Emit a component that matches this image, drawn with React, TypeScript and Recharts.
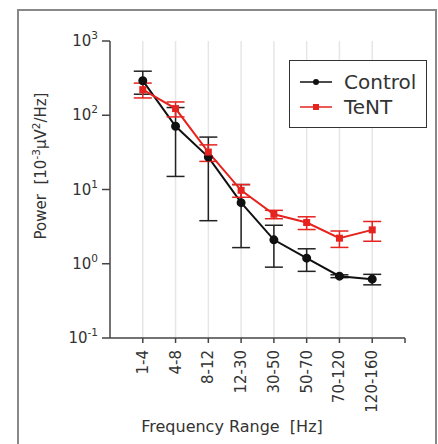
import React from "react";
import {
  LineChart,
  Line,
  XAxis,
  YAxis,
  ErrorBar,
  ReferenceLine,
} from "recharts";

const bands = ["1-4", "4-8", "8-12", "12-30", "30-50", "50-70", "70-120", "120-160"];
const controlMean = [292, 71, 27.3, 6.65, 2.1, 1.19, 0.68, 0.62];
const controlErr = [100, 56, 23.5, 5.0, 1.2, 0.4, 0.03, 0.1];
const tentMean = [221, 123, 31.9, 9.76, 4.64, 3.59, 2.21, 2.86];
const tentErr = [50, 28, 8, 1.9, 0.6, 0.7, 0.55, 0.85];
const yTicks = [0.1, 1, 10, 100, 1000];

const FONT = "DejaVu Sans, sans-serif";
const RED = "#e5231f";
const INK = "#333";

const data = bands.map((b, i) => ({
  x: i + 1,
  band: b,
  ctrl: controlMean[i],
  ctrlErr: controlErr[i],
  tent: tentMean[i],
  tentErr: tentErr[i],
}));

const PowTick = (props: any) => {
  const { x, y, payload } = props;
  const e = Math.round(Math.log10(payload.value));
  return (
    <text x={x - 2} y={y + 5} textAnchor="end" fontSize={15} fill={INK} fontFamily={FONT}>
      <tspan>10</tspan>
      <tspan dy={-7} fontSize={10.5}>{e}</tspan>
    </text>
  );
};

const BandTick = (props: any) => {
  const { x, y, payload } = props;
  const label = bands[payload.value - 1];
  if (!label) return null;
  return (
    <text
      transform={`translate(${x + 5}, ${y + 5}) rotate(-90)`}
      textAnchor="end"
      fontSize={15}
      fill={INK}
      fontFamily={FONT}
    >
      {label}
    </text>
  );
};

const SquareDot = (props: any) => {
  const { cx, cy } = props;
  if (cx == null || cy == null) return null;
  return <rect x={cx - 3.5} y={cy - 3.5} width={7} height={7} fill={RED} />;
};

const LegendBox = () => (
  <div
    style={{
      position: "absolute",
      left: 289,
      top: 60,
      border: "1.5px solid #333",
      background: "#fff",
      width: 138,
      height: 68,
      boxSizing: "border-box",
      fontFamily: FONT,
      fontSize: 20,
      color: INK,
      paddingTop: 8,
    }}
  >
    {[
      { name: "Control", color: "#111", square: false },
      { name: "TeNT", color: RED, square: true },
    ].map((it) => (
      <div key={it.name} style={{ display: "flex", alignItems: "center", height: 25 }}>
        <svg width={48} height={12} style={{ marginLeft: 8 }}>
          <line x1={2} y1={6} x2={34} y2={6} stroke={it.color} strokeWidth={1.5} />
          {it.square ? (
            <rect x={15} y={3} width={6} height={6} fill={it.color} />
          ) : (
            <circle cx={18} cy={6} r={3} fill={it.color} />
          )}
        </svg>
        <span style={{ marginLeft: -2 }}>{it.name}</span>
      </div>
    ))}
  </div>
);

export default function App() {
  return (
    <div
      style={{
        position: "absolute",
        left: 0,
        top: 0,
        width: 438,
        height: 444,
        background: "#fff",
        overflow: "hidden",
      }}
    >
      <div
        style={{
          position: "absolute",
          left: 17,
          top: 9,
          width: 416,
          height: 440,
          borderLeft: "2px solid #888",
          borderTop: "2px solid #888",
          borderRight: "2px solid #888",
        }}
      />
      <LineChart
        width={438}
        height={444}
        data={data}
        margin={{ top: 41, right: 33, bottom: 0, left: 0 }}
        style={{ position: "absolute", left: 0, top: 0 }}
      >
        {data.map((d) => (
          <ReferenceLine key={d.band} x={d.x} stroke="#e6e6e6" strokeWidth={1.5} />
        ))}
        <XAxis
          type="number"
          dataKey="x"
          domain={[0, 9]}
          ticks={[1, 2, 3, 4, 5, 6, 7, 8, 9]}
          height={106}
          stroke="#444"
          strokeWidth={1.5}
          tickSize={5}
          tick={<BandTick />}
          label={{
            content: () => (
              <text x={232} y={432} textAnchor="middle" fontSize={16} fill={INK} fontFamily={FONT}>
                Frequency Range{"\u00a0"} [Hz]
              </text>
            ),
          }}
        />
        <YAxis
          scale="log"
          domain={[0.1, 1000]}
          ticks={yTicks}
          allowDataOverflow
          width={110}
          stroke="#444"
          strokeWidth={1.5}
          tickSize={8}
          tick={<PowTick />}
          label={{
            content: () => (
              <text
                transform="translate(46, 166) rotate(-90)"
                textAnchor="middle"
                fontSize={15}
                fill={INK}
                fontFamily={FONT}
              >
                <tspan>Power{"\u00a0"} [10</tspan>
                <tspan dy={-6} fontSize={10.5}>-3</tspan>
                <tspan dy={6}>µV</tspan>
                <tspan dy={-6} fontSize={10.5}>2</tspan>
                <tspan dy={6}>/Hz]</tspan>
              </text>
            ),
          }}
        />
        <Line
          type="linear"
          dataKey="ctrl"
          name="Control"
          stroke="#111"
          strokeWidth={2}
          dot={{ r: 3.5, fill: "#111", stroke: "#111" }}
          isAnimationActive={false}
        >
          <ErrorBar dataKey="ctrlErr" direction="y" width={9} stroke="#222" strokeWidth={1.5} />
        </Line>
        <Line
          type="linear"
          dataKey="tent"
          name="TeNT"
          stroke={RED}
          strokeWidth={2}
          dot={<SquareDot />}
          isAnimationActive={false}
        >
          <ErrorBar dataKey="tentErr" direction="y" width={9} stroke={RED} strokeWidth={1.5} />
        </Line>
      </LineChart>
      <LegendBox />
    </div>
  );
}
